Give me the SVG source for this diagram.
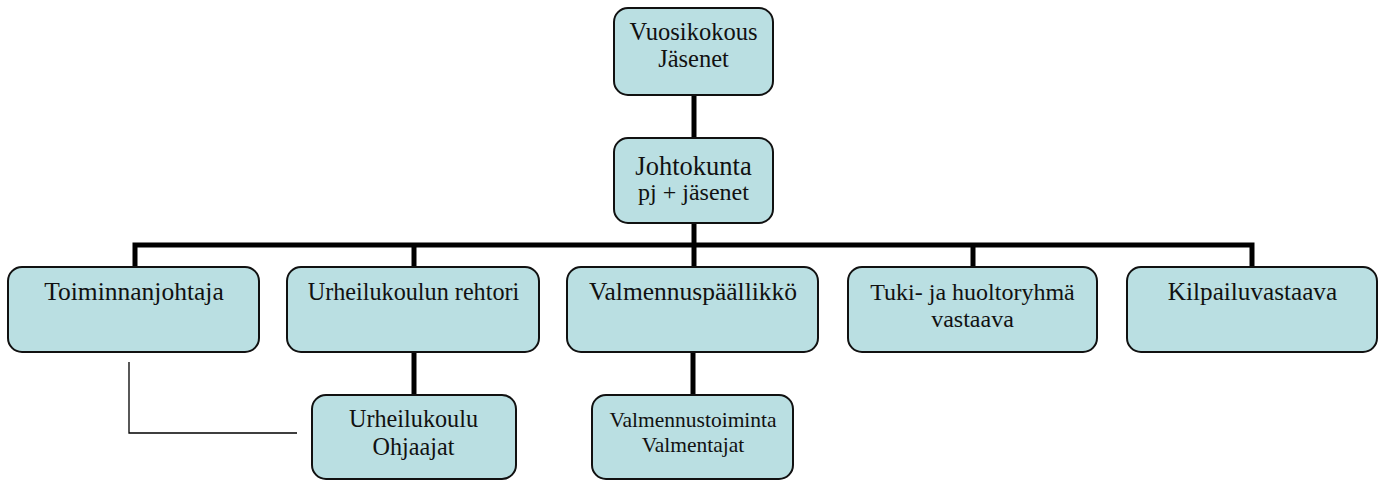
<svg xmlns="http://www.w3.org/2000/svg" width="1383" height="481" viewBox="0 0 1383 481">
<style>
.box{fill:#badfe2;stroke:#111;stroke-width:2}
.t{font-family:'Liberation Serif','Times New Roman',serif;fill:#111;text-anchor:middle}
.thick{stroke:#000;stroke-width:5;fill:none}
.thin{stroke:#000;stroke-width:1.3;fill:none}
</style>
<rect width="1383" height="481" fill="#fff"/>
<g id="connectors">
<line class="thick" x1="694" y1="95" x2="694" y2="138"/>
<line class="thick" x1="694" y1="223" x2="694" y2="245"/>
<polyline class="thick" points="135,267 135,245 1252,245 1252,267"/>
<line class="thick" x1="414" y1="245" x2="414" y2="267"/>
<line class="thick" x1="973" y1="245" x2="973" y2="267"/>
<line class="thick" x1="694" y1="245" x2="694" y2="267"/>
<line class="thick" x1="414" y1="352" x2="414" y2="395"/>
<line class="thick" x1="693" y1="352" x2="693" y2="395"/>
<polyline class="thin" points="129,362 129,433 297,433"/>
</g>
<g id="vuosikokous">
<rect class="box" x="614" y="8" width="159" height="87" rx="14"/>
<text class="t" x="693.5" y="40" font-size="24.5">Vuosikokous</text>
<text class="t" x="693.5" y="67" font-size="24.5">Jäsenet</text>
</g>
<g id="johtokunta">
<rect class="box" x="614" y="138" width="159" height="85" rx="14"/>
<text class="t" x="693.5" y="175" font-size="26.5">Johtokunta</text>
<text class="t" x="693.5" y="200" font-size="24">pj + jäsenet</text>
</g>
<g id="toiminnanjohtaja">
<rect class="box" x="8" y="267" width="251" height="85" rx="14"/>
<text class="t" x="134" y="300" font-size="25.5">Toiminnanjohtaja</text>
</g>
<g id="rehtori">
<rect class="box" x="287" y="267" width="252" height="85" rx="14"/>
<text class="t" x="413.5" y="300" font-size="24.2">Urheilukoulun rehtori</text>
</g>
<g id="valmennuspaallikko">
<rect class="box" x="567" y="267" width="251" height="85" rx="14"/>
<text class="t" x="693" y="300" font-size="25.5">Valmennuspäällikkö</text>
</g>
<g id="tuki">
<rect class="box" x="848" y="267" width="249" height="85" rx="14"/>
<text class="t" x="972.5" y="300" font-size="24">Tuki- ja huoltoryhmä</text>
<text class="t" x="972.5" y="327" font-size="24">vastaava</text>
</g>
<g id="kilpailuvastaava">
<rect class="box" x="1127" y="267" width="250" height="85" rx="14"/>
<text class="t" x="1252.5" y="300" font-size="25.2">Kilpailuvastaava</text>
</g>
<g id="urheilukoulu">
<rect class="box" x="312" y="395" width="204" height="84" rx="14"/>
<text class="t" x="413.5" y="427" font-size="24.2">Urheilukoulu</text>
<text class="t" x="413.5" y="455" font-size="24.2">Ohjaajat</text>
</g>
<g id="valmennustoiminta">
<rect class="box" x="592" y="395" width="201" height="84" rx="14"/>
<text class="t" x="693" y="427" font-size="21.5">Valmennustoiminta</text>
<text class="t" x="693" y="452" font-size="21.5">Valmentajat</text>
</g>
</svg>
